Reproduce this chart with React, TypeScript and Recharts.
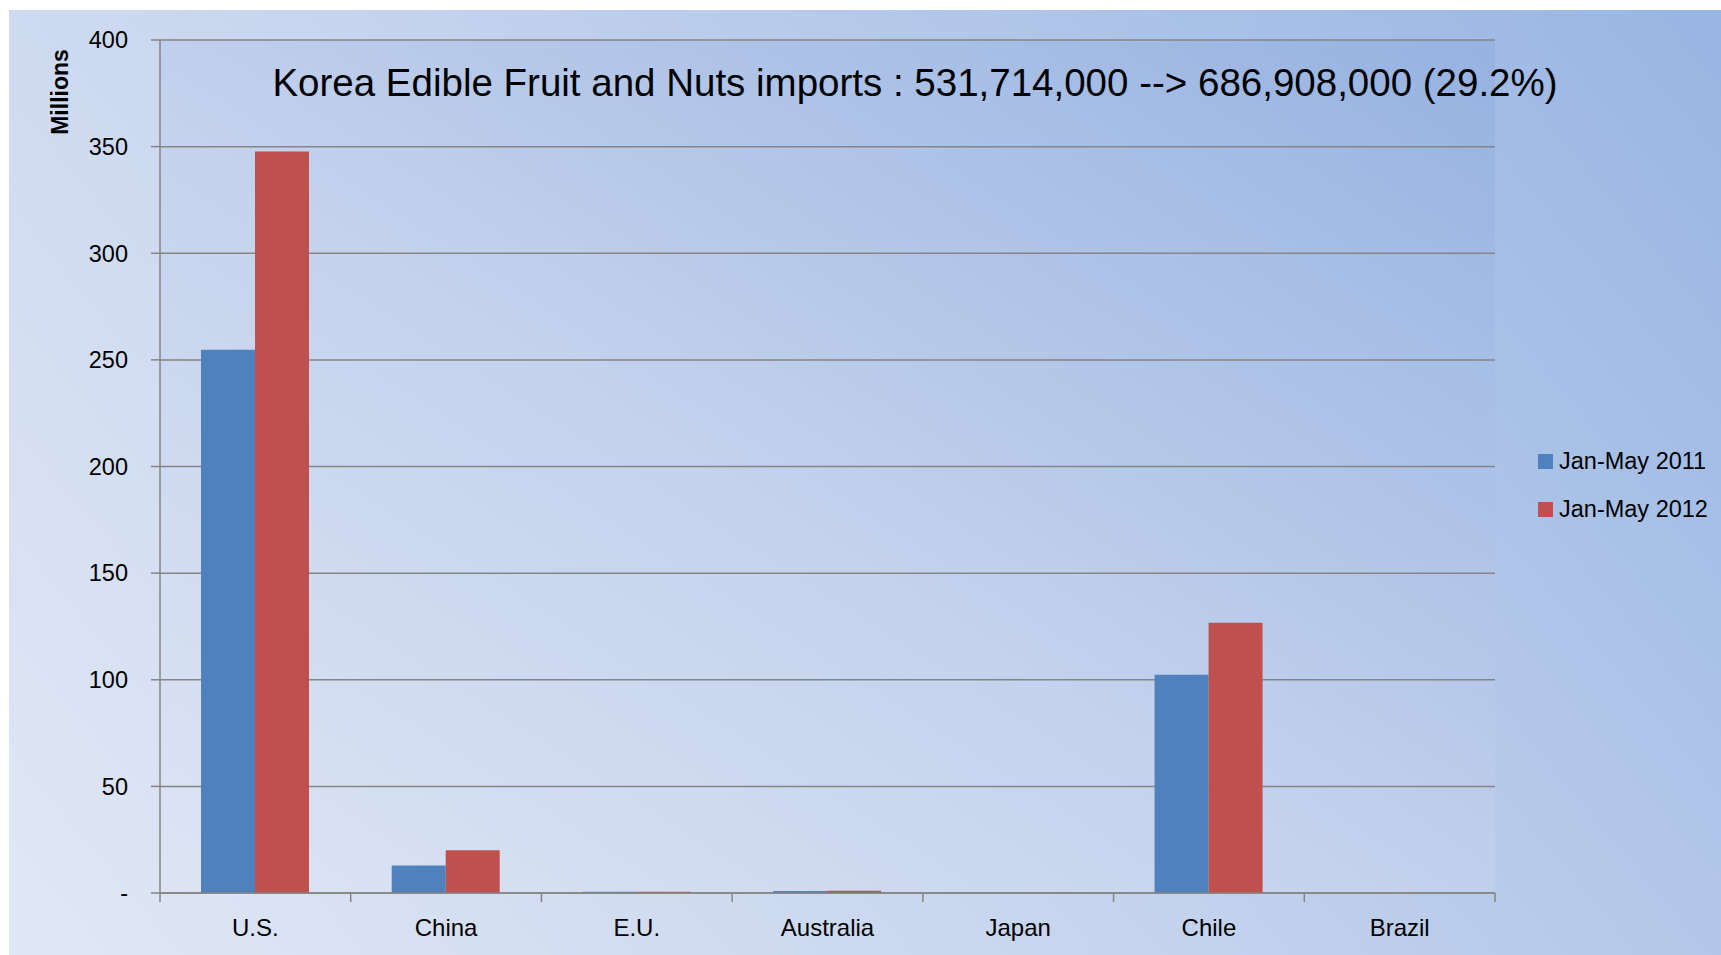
import React from "react";
import { BarChart, Bar, XAxis, YAxis, CartesianGrid, Legend } from "recharts";

const countries = ["U.S.", "China", "E.U.", "Australia", "Japan", "Chile", "Brazil"];
const jan2011 = [254.8, 12.9, 0.6, 0.9, 0.1, 102.3, 0];
const jan2012 = [347.7, 20.1, 0.6, 1.1, 0.1, 126.7, 0];
const yTicks = [0, 50, 100, 150, 200, 250, 300, 350, 400];

const TITLE = "Korea Edible Fruit and Nuts imports : 531,714,000 --> 686,908,000 (29.2%)";
const FONT = "'Liberation Sans', Arial, sans-serif";
const GRID = "#858585";

const data = countries.map((c, i) => ({ country: c, y2011: jan2011[i], y2012: jan2012[i] }));

function CountryTick(props: any) {
  const { x, y, payload, index, visibleTicksCount } = props;
  const half = payload.offset ?? 0;
  const last = index === visibleTicksCount - 1;
  return (
    <g>
      <line x1={x - half} y1={y} x2={x - half} y2={y + 9} stroke={GRID} strokeWidth={1.5} />
      {last && <line x1={x + half} y1={y} x2={x + half} y2={y + 9} stroke={GRID} strokeWidth={1.5} />}
      <text x={x} y={y + 43} textAnchor="middle" fontFamily={FONT} fontSize={24} fill="#000">
        {payload.value}
      </text>
    </g>
  );
}

function MillionsLabel(props: any) {
  const { viewBox } = props;
  const cx = viewBox.x + 51;
  const cy = viewBox.y + 52;
  return (
    <text
      x={cx}
      y={cy}
      transform={`rotate(-90 ${cx} ${cy})`}
      textAnchor="middle"
      dominantBaseline="central"
      fontFamily={FONT}
      fontWeight="bold"
      fontSize={23}
      fill="#000"
    >
      Millions
    </text>
  );
}

function LegendBox(props: any) {
  const { payload } = props;
  return (
    <div style={{ fontFamily: FONT, fontSize: 23.5, color: "#000" }}>
      {payload.map((p: any) => (
        <div key={p.value} style={{ display: "flex", alignItems: "center", height: 47.5, whiteSpace: "nowrap" }}>
          <span style={{ width: 15, height: 15, background: p.color, marginRight: 6, display: "inline-block" }} />
          <span>{p.value}</span>
        </div>
      ))}
    </div>
  );
}

export default function App() {
  return (
    <div
      style={{
        position: "absolute",
        left: 9,
        top: 10,
        width: 1712,
        height: 945,
        background: "linear-gradient(50deg, #e1e8f5 0%, #c6d4ee 45%, #98b5e3 100%)",
      }}
    >
      <BarChart
        width={1712}
        height={945}
        data={data}
        margin={{ top: 30, right: 226, bottom: 0, left: 0 }}
        barCategoryGap={41}
        barGap={0}
      >
        <defs>
          <linearGradient id="plotBg" x1="0" y1="1" x2="1" y2="0">
            <stop offset="0%" stopColor="#dde5f4" />
            <stop offset="45%" stopColor="#c4d2ed" />
            <stop offset="100%" stopColor="#96b2e1" />
          </linearGradient>
        </defs>
        <CartesianGrid vertical={false} stroke={GRID} strokeWidth={1.5} fill="url(#plotBg)" fillOpacity={1} />
        <XAxis
          dataKey="country"
          height={62}
          axisLine={{ stroke: GRID, strokeWidth: 1.5 }}
          tickLine={false}
          tickSize={0}
          tickMargin={0}
          interval={0}
          tick={<CountryTick />}
        />
        <YAxis
          width={151}
          domain={[0, 400]}
          ticks={yTicks}
          interval={0}
          tickSize={9}
          tickMargin={23}
          axisLine={{ stroke: GRID, strokeWidth: 1.5 }}
          tickLine={{ stroke: GRID, strokeWidth: 1.5 }}
          tick={{ fill: "#000", fontSize: 23.5, fontFamily: FONT }}
          tickFormatter={(v: number) => (v === 0 ? "-" : String(v))}
          label={<MillionsLabel />}
        />
        <Legend
          layout="vertical"
          align="center"
          verticalAlign="middle"
          content={<LegendBox />}
          wrapperStyle={{ left: 1529, top: 428, width: 190 }}
        />
        <Bar dataKey="y2011" name="Jan-May 2011" fill="#4f81bd" isAnimationActive={false} />
        <Bar dataKey="y2012" name="Jan-May 2012" fill="#c0504d" isAnimationActive={false} />
        <text x={906} y={86} textAnchor="middle" fontFamily={FONT} fontSize={38.5} fill="#000">
          {TITLE}
        </text>
      </BarChart>
    </div>
  );
}
